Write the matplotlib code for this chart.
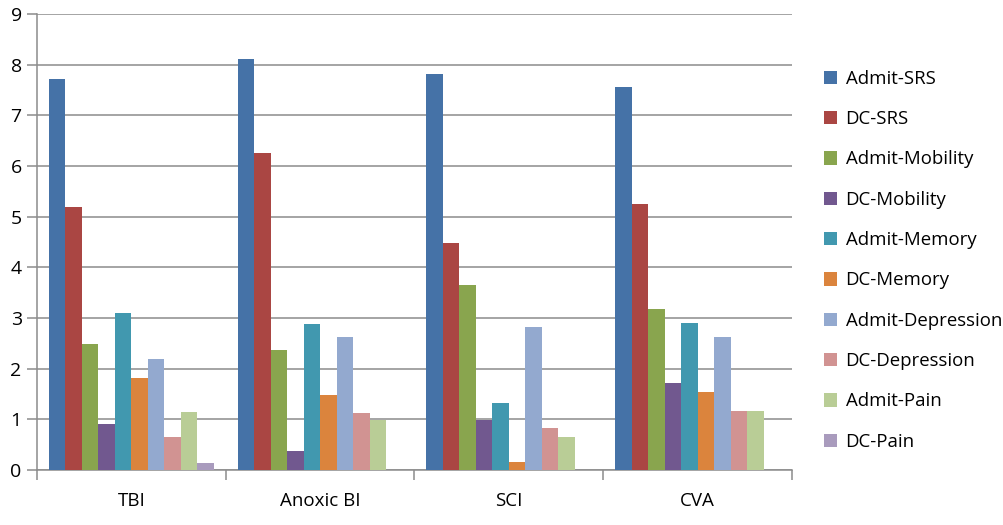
import numpy as np
import matplotlib
matplotlib.use("Agg")
import matplotlib.pyplot as plt

categories = ["TBI", "Anoxic BI", "SCI", "CVA"]
series = ["Admit-SRS", "DC-SRS", "Admit-Mobility", "DC-Mobility", "Admit-Memory",
          "DC-Memory", "Admit-Depression", "DC-Depression", "Admit-Pain", "DC-Pain"]

admit_srs = [7.72, 8.12, 7.82, 7.55]
dc_srs = [5.20, 6.25, 4.48, 5.25]
admit_mobility = [2.48, 2.37, 3.65, 3.17]
dc_mobility = [0.90, 0.37, 0.99, 1.72]
admit_memory = [3.10, 2.88, 1.32, 2.90]
dc_memory = [1.82, 1.48, 0.16, 1.53]
admit_depression = [2.20, 2.62, 2.83, 2.62]
dc_depression = [0.65, 1.12, 0.83, 1.17]
admit_pain = [1.15, 0.98, 0.66, 1.17]
dc_pain = [0.13, 0.0, 0.0, 0.0]

values = [admit_srs, dc_srs, admit_mobility, dc_mobility, admit_memory,
          dc_memory, admit_depression, dc_depression, admit_pain, dc_pain]
colors = ["#4572A7", "#AA4643", "#89A54E", "#71588F", "#4198AF",
          "#DB843D", "#93A9CF", "#D19392", "#B9CD96", "#A99BBD"]

plt.rcParams['font.family'] = ['Open Sans', 'DejaVu Sans']

fig = plt.figure(figsize=(10.04, 5.25), dpi=100)
ax = fig.add_axes([37/1004, 1 - 470/525, (792 - 37)/1004, (470 - 14)/525])

x = np.arange(len(categories))
w = 0.0873
for i, (name, vals) in enumerate(zip(series, values)):
    ax.bar(x + (i - 4.5) * w, vals, w, color=colors[i], label=name, zorder=3)

ax.set_xlim(-0.5, 3.5)
ax.set_ylim(0, 9)
ax.set_yticks(range(10))
ax.yaxis.grid(True, color="#8c8c8c", linewidth=1.1, zorder=0)
for s in ["top", "right"]:
    ax.spines[s].set_visible(False)
for s in ["left", "bottom"]:
    ax.spines[s].set_color("#8c8c8c")
    ax.spines[s].set_linewidth(1.1)

ax.set_xticks(np.arange(-0.5, 4, 1))
ax.set_xticklabels([])
ax.set_xticks(x, minor=True)
ax.set_xticklabels(categories, minor=True, fontsize=13.5)
ax.tick_params(axis="x", which="major", length=7, color="#8c8c8c", width=1.1)
ax.tick_params(axis="x", which="minor", length=0, pad=16)
ax.tick_params(axis="y", length=7, color="#8c8c8c", width=1.1, labelsize=14, pad=4)

fig.legend(loc="upper left", bbox_to_anchor=(807/1004, 1 - 53/525), frameon=False,
           fontsize=13.4, handlelength=0.72, handleheight=0.72, handletextpad=0.45,
           labelspacing=1.2)

fig.savefig("out.png", dpi=100)
